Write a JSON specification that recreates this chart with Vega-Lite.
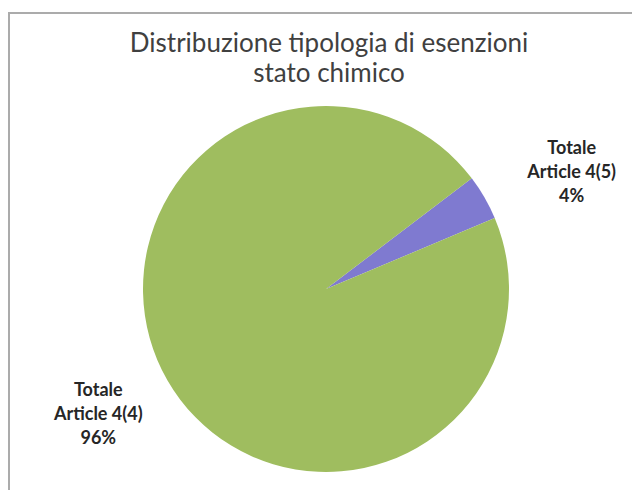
{
  "$schema": "https://vega.github.io/schema/vega-lite/v6.json",
  "autosize": {"type": "none"},
  "width": 634,
  "height": 552,
  "padding": {"left": 9, "top": 13, "right": 0, "bottom": 0},
  "background": "white",
  "view": {"stroke": "#ababab", "strokeWidth": 2, "strokeDash": [634, 1186, 552]},
  "title": {
    "text": ["Distribuzione tipologia di esenzioni", "stato chimico"],
    "font": "Lato",
    "fontSize": 26,
    "fontWeight": "normal",
    "color": "#404040",
    "lineHeight": 30,
    "anchor": "start",
    "align": "center",
    "dx": 320,
    "offset": -74,
    "frame": "group"
  },
  "data": {
    "values": [
      {"categoria": "Totale Article 4(5)", "valore": 4, "etichetta": "Totale\nArticle 4(5)\n4%"},
      {"categoria": "Totale Article 4(4)", "valore": 96, "etichetta": "Totale\nArticle 4(4)\n96%"}
    ]
  },
  "encoding": {
    "theta": {"field": "valore", "type": "quantitative", "stack": true, "scale": {"range": [0.9215, 7.2047]}},
    "order": {"field": "valore", "type": "quantitative", "sort": "ascending"}
  },
  "layer": [
    {
      "mark": {"type": "arc", "radius": 183},
      "encoding": {
        "color": {
          "field": "categoria",
          "type": "nominal",
          "scale": {"domain": ["Totale Article 4(5)", "Totale Article 4(4)"], "range": ["#7f7ad0", "#9fbd5f"]},
          "legend": null
        }
      }
    },
    {
      "mark": {"type": "text", "radius": 266, "thetaOffset": 0.05, "dx": 9, "dy": -19, "font": "Lato", "fontSize": 18, "fontWeight": "bold", "fill": "#262626", "lineBreak": "\n", "lineHeight": 24, "align": "center", "baseline": "middle"},
      "encoding": {
        "text": {"field": "etichetta", "type": "nominal"},
        "detail": {"field": "categoria", "type": "nominal"}
      }
    }
  ]
}
